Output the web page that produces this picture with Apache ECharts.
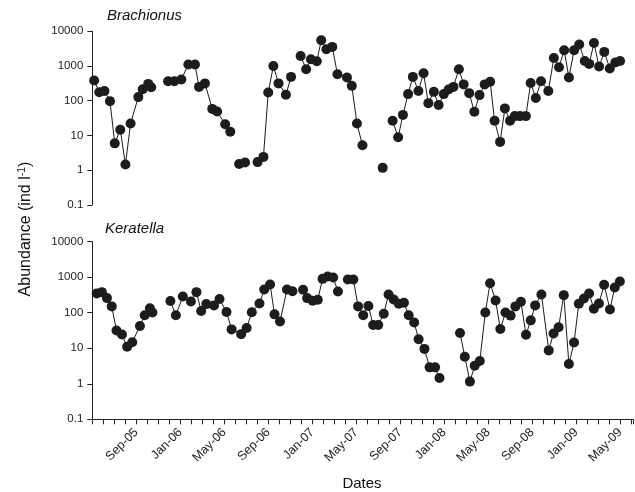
<!DOCTYPE html>
<html>
<head>
<meta charset="utf-8">
<script src="https://cdn.jsdelivr.net/npm/echarts@6/dist/echarts.min.js"></script>
<style>
  html, body { margin: 0; padding: 0; background: #fff; }
  #chart { width: 635px; height: 492px; }
</style>
</head>
<body>
<div id="chart"></div>
<script>
// ---- data (dates; null = break in the line) ----
const brachionusDates = [
  '2005-05-06','2005-05-20','2005-06-04','2005-06-19','2005-07-02','2005-07-17','2005-07-31','2005-08-15',
  '2005-09-06','2005-09-18','2005-10-03','2005-10-11','2005-11-10',
  '2005-11-27','2005-12-14','2006-01-03','2006-01-22','2006-02-10','2006-02-21','2006-03-07','2006-03-27',
  '2006-04-10','2006-05-02','2006-05-16','2006-06-01',
  '2006-06-10','2006-06-26','2006-07-12',
  '2006-07-30','2006-08-16','2006-08-29','2006-09-13','2006-09-27','2006-10-17','2006-11-01','2006-11-14',
  '2006-11-27','2006-12-12','2006-12-25','2007-01-11','2007-01-23','2007-02-07','2007-02-23','2007-03-07',
  '2007-04-03','2007-04-16','2007-04-30','2007-05-15','2007-06-10',
  '2007-07-10','2007-07-25',
  '2007-08-07','2007-08-22','2007-09-05','2007-09-19','2007-10-02','2007-10-17','2007-11-01','2007-11-14',
  '2007-11-29','2007-12-12','2007-12-26','2008-01-09','2008-01-22','2008-02-07','2008-02-20','2008-03-05',
  '2008-03-19','2008-04-03','2008-04-17','2008-05-02','2008-05-14','2008-05-29','2008-06-12','2008-06-26',
  '2008-07-09','2008-07-23','2008-08-09','2008-08-22','2008-09-06','2008-09-20','2008-10-10','2008-10-25',
  '2008-11-09','2008-11-23','2008-12-06','2008-12-20','2009-01-04','2009-01-19','2009-01-31','2009-02-14',
  '2009-02-28','2009-03-12','2009-03-27','2009-04-12','2009-04-25'
];
const brachionusValues = [
  380, 175, 190, 97, 5.9, 14.6, 1.45, 22,
  127, 215, 305, 245, null,
  365, 365, 410, 1100, 1100, 250, 315, 58,
  49, 21, 12.8, null,
  1.5, 1.65, null,
  1.7, 2.4, 173, 1000, 315, 148, 485, null,
  1950, 810, 1570, 1370, 5500, 3050, 3550, 580,
  467, 268, 22, 5.2, null,
  1.16, null,
  26.4, 8.8, 39, 155, 485, 190, 620, 85,
  180, 75, 155, 210, 250, 810, 295, 165,
  48, 145, 295, 350, 26.4, 6.5, 60, 26.4,
  36, 36, 36, 325, 120, 365, 190, 1700,
  925, 2850, 467, 2850, 4150, 1400, 1150, 4600,
  965, 2550, 850, 1260, 1400
];

const keratellaDates = [
  '2005-05-13','2005-05-27','2005-06-11','2005-06-24','2005-07-07','2005-07-22','2005-08-06','2005-08-20',
  '2005-09-11','2005-09-24','2005-10-08','2005-10-15','2005-11-10',
  '2005-12-04','2005-12-19','2006-01-08','2006-01-30','2006-02-15','2006-02-28','2006-03-12','2006-04-03',
  '2006-04-18','2006-05-07','2006-05-21','2006-06-17','2006-07-02','2006-07-16','2006-08-07','2006-08-20',
  '2006-09-06','2006-09-18','2006-10-03','2006-10-22','2006-11-07','2006-11-22',
  '2006-12-06','2006-12-17','2007-01-02','2007-01-16','2007-01-29','2007-02-13','2007-02-28','2007-03-11','2007-03-25',
  '2007-04-08','2007-04-23','2007-05-06','2007-05-20','2007-06-04','2007-06-17','2007-07-01','2007-07-16',
  '2007-07-29','2007-08-13','2007-08-27','2007-09-11','2007-09-24','2007-10-09','2007-10-21','2007-11-07',
  '2007-11-21','2007-12-06','2007-12-18','2008-01-15',
  '2008-02-14','2008-02-27','2008-03-11','2008-03-24','2008-04-08','2008-04-23','2008-05-06','2008-05-21',
  '2008-06-04','2008-06-18','2008-07-02','2008-07-15','2008-07-30','2008-08-14','2008-08-27','2008-09-09',
  '2008-09-26','2008-10-16','2008-10-29','2008-11-13','2008-11-27','2008-12-11','2008-12-25','2009-01-08',
  '2009-01-22','2009-02-06','2009-02-19','2009-03-03','2009-03-17','2009-04-03','2009-04-16','2009-04-30'
];
const keratellaValues = [
  350, 380, 258, 151, 31.6, 24.4, 11, 14.8,
  42.5, 85, 133, 101, null,
  213, 85, 288, 208, 380, 112, 175, 161,
  243, 105, 34, 25, 37, 103, 183, 452,
  626, 90, 57, 452, 405, null,
  444, 258, 218, 233, 900, 1050, 980, 397, null,
  865, 865, 151, 85, 154, 45, 45, 94,
  327, 237, 180, 192, 85, 53, 18, 9.6,
  2.9, 2.9, 1.45, null,
  27, 5.75, 1.15, 3.2, 4.4, 101, 680, 222,
  35, 101, 83, 151, 205, 24, 61, 161,
  327, 8.7, 26, 39, 313, 3.6, 14.5, 180,
  253, 349, 130, 183, 612, 124, 514, 759
];

// month-axis tick labels (every 4th month starting Sep-05)
const tickLabels = ['Sep-05','Jan-06','May-06','Sep-06','Jan-07','May-07','Sep-07','Jan-08','May-08','Sep-08','Jan-09','May-09'];
const yTickLabels = ['0.1','1','10','100','1000','10000'];

// months since 1 May 2005
function monthIndex(s) {
  const p = s.split('-').map(Number);
  return (p[0] - 2005) * 12 + (p[1] - 5) + (p[2] - 1) / 30;
}
function build(dates, vals) {
  return dates.map((d, i) => [monthIndex(d), vals[i] === null ? '-' : vals[i]]);
}

const FONT = 'Liberation Sans, Arial, sans-serif';
const chart = echarts.init(document.getElementById('chart'), null, { renderer: 'canvas' });

function yAxis(gridIndex) {
  return {
    type: 'log', logBase: 10, min: 0.1, max: 10000, gridIndex: gridIndex,
    axisLine: { show: true, lineStyle: { color: '#222', width: 1 } },
    axisTick: { show: true, length: 5, lineStyle: { color: '#222' } },
    axisLabel: {
      color: '#222', fontSize: 11.5, fontFamily: FONT, margin: 9,
      formatter: function (v) {
        const e = Math.round(Math.log10(v));
        return yTickLabels[e + 1] || '';
      }
    },
    splitLine: { show: false }, minorTick: { show: false }
  };
}
function xAxis(gridIndex, visible) {
  return {
    type: 'value', gridIndex: gridIndex, min: 0, max: 49.15, interval: 1,
    show: visible,
    axisLine: { show: true, onZero: false, lineStyle: { color: '#222', width: 1 } },
    axisTick: { show: true, length: 5, lineStyle: { color: '#222' } },
    axisLabel: {
      show: true, rotate: 45, color: '#222', fontSize: 12.5, fontFamily: FONT, margin: 11,
      hideOverlap: false, showMaxLabel: true, showMinLabel: true,
      formatter: function (v) {
        const r = Math.round(v);
        if (Math.abs(v - r) > 1e-6) return '';
        if (r >= 4 && r % 4 === 0) return tickLabels[r / 4 - 1] || '';
        return '';
      }
    },
    splitLine: { show: false }
  };
}
function lineSeries(xi, data) {
  return {
    type: 'line', xAxisIndex: xi, yAxisIndex: xi, data: data,
    connectNulls: false, showSymbol: true, showAllSymbol: true,
    symbol: 'circle', symbolSize: 10,
    itemStyle: { color: '#1c1c1c', borderWidth: 0 },
    lineStyle: { color: '#1c1c1c', width: 1 },
    emphasis: { disabled: true }, animation: false
  };
}

chart.setOption({
  backgroundColor: '#ffffff',
  animation: false,
  grid: [
    { left: 92.3, right: 0, top: 31.3, height: 173.5 },
    { left: 92.3, right: 0, top: 241.7, height: 177.6 }
  ],
  xAxis: [xAxis(0, false), xAxis(1, true)],
  yAxis: [yAxis(0), yAxis(1)],
  series: [
    lineSeries(0, build(brachionusDates, brachionusValues)),
    lineSeries(1, build(keratellaDates, keratellaValues))
  ],
  graphic: [
    { type: 'text', left: 107, top: 8, style: { text: 'Brachionus', font: 'italic 15px ' + FONT, fill: '#111' } },
    { type: 'text', left: 105, top: 221, style: { text: 'Keratella', font: 'italic 15px ' + FONT, fill: '#111' } },
    { type: 'text', x: 362, y: 484, style: { text: 'Dates', font: '15px ' + FONT, fill: '#111', align: 'center', verticalAlign: 'middle' } },
    {
      type: 'text', x: 26, y: 229, rotation: Math.PI / 2,
      style: {
        text: 'Abundance (ind l{sup|-1})',
        font: '16px ' + FONT, fill: '#111', align: 'center', verticalAlign: 'middle',
        rich: { sup: { fontSize: 10.5, fontFamily: FONT, fill: '#111', verticalAlign: 'top', padding: [0, 0, 8, 0] } }
      }
    }
  ]
});
</script>
</body>
</html>
